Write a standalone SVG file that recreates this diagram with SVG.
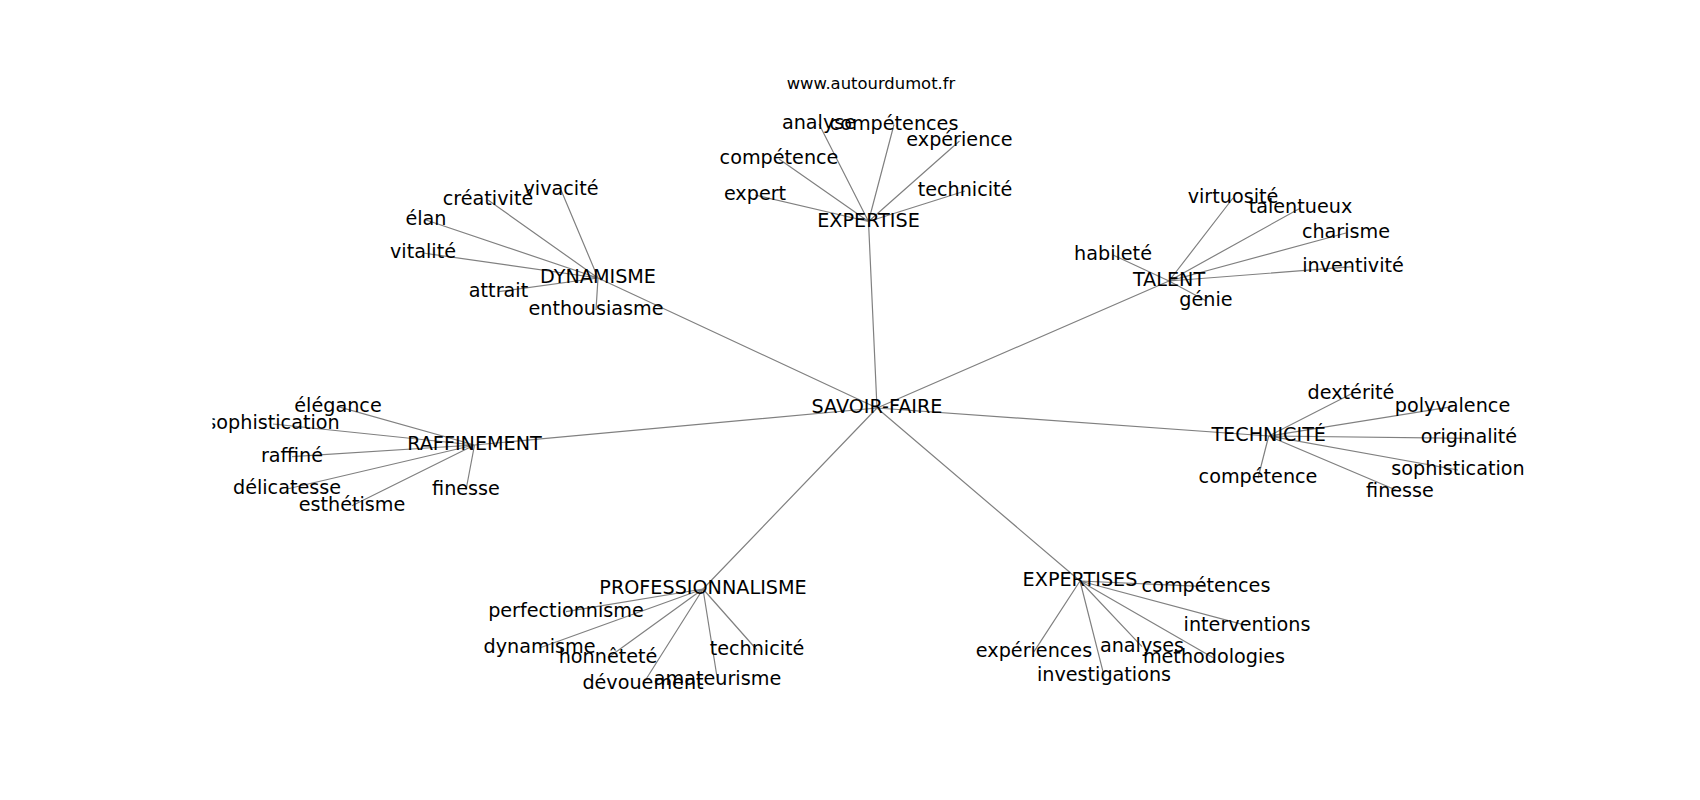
<svg xmlns="http://www.w3.org/2000/svg" width="1700" height="800" viewBox="0 0 1700 800">
<style>
.e{stroke:#808080;stroke-width:1.2;fill:none}
text{font-family:"DejaVu Sans","Liberation Sans",sans-serif;font-size:19.2px;fill:#000;text-anchor:middle}
.t{font-size:16.4px}
</style>
<defs><clipPath id="ax"><rect x="212.5" y="96" width="1317.5" height="616"/></clipPath></defs>
<rect width="1700" height="800" fill="#fff"/>
<text class="t" x="871" y="88.5">www.autourdumot.fr</text>
<g clip-path="url(#ax)">
<g id="edges">
<path class="e" d="M877 408L868.5 221.5M877 408L598 278M877 408L1169 281M877 408L474.5 445M877 408L1268.7 436M877 408L703 589M877 408L1080 581"/>
<path class="e" d="M868.5 221.5L819 124M868.5 221.5L894 124.5M868.5 221.5L959.5 141M868.5 221.5L779 159M868.5 221.5L755 195M868.5 221.5L965 191"/>
<path class="e" d="M598 278L561 190M598 278L488 200M598 278L426 220M598 278L423 253M598 278L498.5 291.7M598 278L596 310"/>
<path class="e" d="M1169 281L1233 198M1169 281L1300.5 208M1169 281L1346 233M1169 281L1113 255M1169 281L1353 266.7M1169 281L1206 300.7"/>
<path class="e" d="M474.5 445L338 406.7M474.5 445L273 424M474.5 445L292 456.7M474.5 445L287 489M474.5 445L352 505.7M474.5 445L466 490"/>
<path class="e" d="M1268.7 436L1351 394M1268.7 436L1452.5 406.7M1268.7 436L1469 438.3M1268.7 436L1458 470M1268.7 436L1258 478M1268.7 436L1400 491.7"/>
<path class="e" d="M703 589L566 611.7M703 589L539.5 648M703 589L608 657.7M703 589L757 650M703 589L643 684M703 589L717.5 680"/>
<path class="e" d="M1080 581L1206 586.7M1080 581L1247 625.7M1080 581L1034 651.7M1080 581L1142 646.7M1080 581L1214 658.3M1080 581L1104 675.7"/>
</g>
<g id="n-savoir-faire"><text x="877" y="413">SAVOIR-FAIRE</text></g>
<g id="n-expertise"><text x="868.5" y="226.5">EXPERTISE</text>
<text x="819" y="129">analyse</text><text x="894" y="129.5">compétences</text><text x="959.5" y="146">expérience</text><text x="779" y="164">compétence</text><text x="755" y="200">expert</text><text x="965" y="196">technicité</text></g>
<g id="n-dynamisme"><text x="598" y="283">DYNAMISME</text>
<text x="561" y="195">vivacité</text><text x="488" y="205">créativité</text><text x="426" y="225">élan</text><text x="423" y="258">vitalité</text><text x="498.5" y="296.7">attrait</text><text x="596" y="315">enthousiasme</text></g>
<g id="n-talent"><text x="1169" y="286">TALENT</text>
<text x="1233" y="203">virtuosité</text><text x="1300.5" y="213">talentueux</text><text x="1346" y="238">charisme</text><text x="1113" y="260">habileté</text><text x="1353" y="271.7">inventivité</text><text x="1206" y="305.7">génie</text></g>
<g id="n-raffinement"><text x="474.5" y="450">RAFFINEMENT</text>
<text x="338" y="411.7">élégance</text><text x="273" y="429">sophistication</text><text x="292" y="461.7">raffiné</text><text x="287" y="494">délicatesse</text><text x="352" y="510.7">esthétisme</text><text x="466" y="495">finesse</text></g>
<g id="n-technicite"><text x="1268.7" y="441">TECHNICITÉ</text>
<text x="1351" y="399">dextérité</text><text x="1452.5" y="411.7">polyvalence</text><text x="1469" y="443.3">originalité</text><text x="1458" y="475">sophistication</text><text x="1258" y="483">compétence</text><text x="1400" y="496.7">finesse</text></g>
<g id="n-professionnalisme"><text x="703" y="594">PROFESSIONNALISME</text>
<text x="566" y="616.7">perfectionnisme</text><text x="539.5" y="653">dynamisme</text><text x="608" y="662.7">honnêteté</text><text x="757" y="655">technicité</text><text x="643" y="689">dévouement</text><text x="717.5" y="685">amateurisme</text></g>
<g id="n-expertises"><text x="1080" y="586">EXPERTISES</text>
<text x="1206" y="591.7">compétences</text><text x="1247" y="630.7">interventions</text><text x="1034" y="656.7">expériences</text><text x="1142" y="651.7">analyses</text><text x="1214" y="663.3">methodologies</text><text x="1104" y="680.7">investigations</text></g>
</g>
</svg>
